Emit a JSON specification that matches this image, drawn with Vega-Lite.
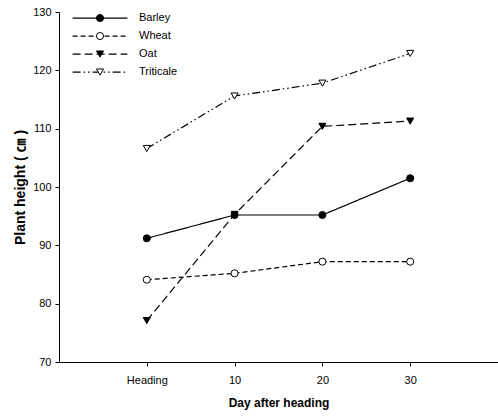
{
  "$schema": "https://vega.github.io/schema/vega-lite/v6.json",
  "autosize": "none",
  "width": 439,
  "height": 350,
  "padding": {"left": 59, "top": 12, "right": 0, "bottom": 57},
  "background": "white",
  "config": {
    "view": {"stroke": null},
    "font": "Liberation Sans",
    "axis": {"grid": false, "domainColor": "black", "tickColor": "black", "labelColor": "black", "titleColor": "black", "labelFont": "Liberation Sans", "titleFont": "Liberation Sans, Noto Sans CJK KR", "labelFontSize": 11, "titleFontWeight": "bold", "tickSize": 4, "domainWidth": 1},
    "legend": {"padding": 0, "labelFont": "Liberation Sans", "labelFontSize": 11, "labelColor": "black"}
  },
  "data": {"values": [
    {"crop": "Triticale", "day": 0, "height": 106.6},
    {"crop": "Triticale", "day": 10, "height": 115.6},
    {"crop": "Triticale", "day": 20, "height": 117.8},
    {"crop": "Triticale", "day": 30, "height": 122.9},
    {"crop": "Oat", "day": 0, "height": 77.1},
    {"crop": "Oat", "day": 10, "height": 95.3},
    {"crop": "Oat", "day": 20, "height": 110.4},
    {"crop": "Oat", "day": 30, "height": 111.3},
    {"crop": "Wheat", "day": 0, "height": 84.1},
    {"crop": "Wheat", "day": 10, "height": 85.2},
    {"crop": "Wheat", "day": 20, "height": 87.2},
    {"crop": "Wheat", "day": 30, "height": 87.2},
    {"crop": "Barley", "day": 0, "height": 91.2},
    {"crop": "Barley", "day": 10, "height": 95.2},
    {"crop": "Barley", "day": 20, "height": 95.2},
    {"crop": "Barley", "day": 30, "height": 101.5}
  ]},
  "encoding": {
    "x": {"field": "day", "type": "quantitative", "scale": {"domain": [-10, 40], "nice": false, "zero": false},
      "axis": {"values": [0, 10, 20, 30], "labelExpr": "datum.value == 0 ? 'Heading' : datum.label", "title": "Day after heading", "titleFontSize": 12, "labelPadding": 8, "titlePadding": 12}},
    "y": {"field": "height", "type": "quantitative", "scale": {"domain": [70, 130], "nice": false, "zero": false},
      "axis": {"values": [70, 80, 90, 100, 110, 120, 130], "title": "Plant height ( ㎝ )", "titleFontSize": 14, "labelPadding": 4, "titlePadding": 5}}
  },
  "layer": [
    {
      "mark": {"type": "line", "color": "black", "strokeWidth": 1.2},
      "encoding": {
        "strokeDash": {"field": "crop", "type": "nominal",
          "scale": {"domain": ["Barley", "Wheat", "Oat", "Triticale"], "range": [[1, 0], [5, 3], [8, 4], [8, 3, 1.5, 3, 1.5, 3]]},
          "legend": {"title": null, "orient": "none", "legendX": 13, "legendY": -2.6, "symbolType": "stroke", "symbolSize": 3000, "clipHeight": 17.3, "rowPadding": 0, "labelOffset": 11, "symbolStrokeColor": "black", "symbolStrokeWidth": 1.2}}
      }
    },
    {
      "mark": {"type": "point", "filled": true, "stroke": "black", "strokeWidth": 1, "size": 50, "opacity": 1},
      "encoding": {
        "shape": {"field": "crop", "type": "nominal", "sort": ["Barley", "Wheat", "Oat", "Triticale"],
          "scale": {"range": ["circle", "circle", "triangle-down", "triangle-down"]},
          "legend": {"title": null, "orient": "none", "legendX": 35.5, "legendY": -2.6, "symbolSize": 50, "clipHeight": 17.3, "rowPadding": 0, "labelExpr": "''", "symbolStrokeColor": "black", "symbolStrokeWidth": 1, "symbolOpacity": 1,
            "encoding": {"symbols": {"fill": {"condition": {"test": "datum.value == 'Wheat' || datum.value == 'Triticale'", "value": "white"}, "value": "black"}, "stroke": {"value": "black"}}}}},
        "fill": {"field": "crop", "type": "nominal", "sort": ["Barley", "Wheat", "Oat", "Triticale"],
          "scale": {"range": ["black", "white", "black", "white"]},
          "legend": null}
      }
    }
  ]
}
